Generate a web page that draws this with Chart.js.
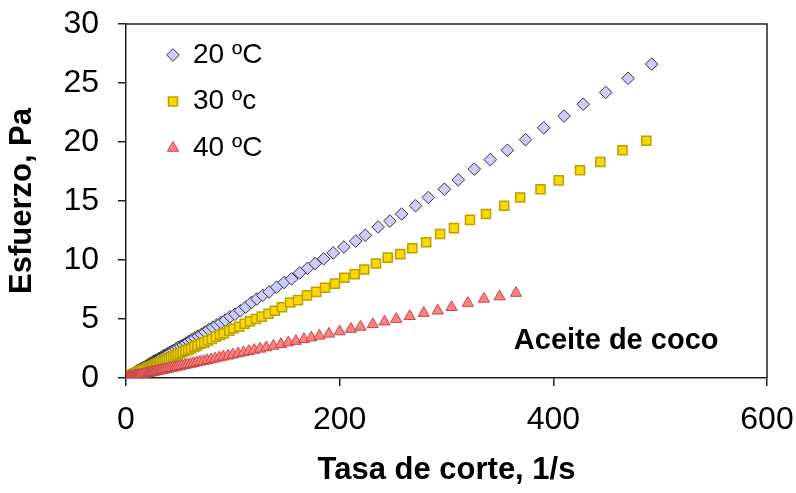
<!DOCTYPE html>
<html>
<head>
<meta charset="utf-8">
<script src="https://cdn.jsdelivr.net/npm/chart.js@4.4.1/dist/chart.umd.min.js"></script>
<style>
  html, body { margin: 0; padding: 0; background: #fff; }
  #wrap { width: 796px; height: 493px; }
</style>
</head>
<body>
<div id="wrap"><canvas id="flowChart" width="796" height="493"></canvas></div>
<script>
// Curvas de flujo: esfuerzo vs tasa de corte
const FONT = "'Liberation Sans', Arial, sans-serif";

const seriesLabels = ['20 ºC', '30 ºc', '40 ºC'];
const sampleName = 'Aceite de coco';
const xTitle = 'Tasa de corte, 1/s';
const yTitle = 'Esfuerzo, Pa';

// 20 ºC
const rate20 = [1.0, 1.3, 1.7, 2.1, 2.6, 3.1, 3.7, 4.3, 4.9, 5.6, 6.5, 7.4, 8.1, 8.9, 9.8, 10.7, 11.8, 12.9, 14.1, 15.5, 17.0, 18.6,
  20.4, 21.4, 22.4, 23.4, 24.5, 25.7, 26.9, 28.2, 29.5, 30.9, 32.3, 33.9, 35.4, 37.1, 38.9, 40.7, 42.6, 44.6, 46.7, 48.9,
  51.2, 53.6, 56.2, 58.8, 61.6, 64.5, 67.5, 70.7, 74.0, 77.5, 81.2, 85.0, 89.0,
  93, 97.5, 102, 107, 112, 117.5, 122.5, 128, 134, 141, 148, 155, 162.5, 170, 177, 185, 194, 204, 215, 224, 236, 247,
  258, 271, 283, 298, 311, 326, 341, 357, 374, 391, 410, 428, 449, 470, 492];
const stress20 = [0.1, 0.1, 0.1, 0.15, 0.2, 0.2, 0.25, 0.25, 0.3, 0.3, 0.35, 0.4, 0.45, 0.5, 0.55, 0.6, 0.65, 0.7, 0.75, 0.85, 0.9, 1.0,
  1.1, 1.15, 1.2, 1.25, 1.3, 1.4, 1.45, 1.5, 1.55, 1.65, 1.7, 1.8, 1.9, 1.95, 2.05, 2.15, 2.25, 2.35, 2.45, 2.6,
  2.7, 2.8, 2.95, 3.1, 3.25, 3.4, 3.55, 3.7, 3.9, 4.1, 4.3, 4.5, 4.7,
  4.9, 5.2, 5.4, 5.7, 6.0, 6.4, 6.7, 7.0, 7.3, 7.7, 8.1, 8.4, 8.9, 9.3, 9.7, 10.1, 10.6, 11.1, 11.6, 12.1, 12.8, 13.3,
  13.9, 14.6, 15.3, 16.0, 16.8, 17.7, 18.5, 19.3, 20.2, 21.2, 22.2, 23.2, 24.2, 25.4, 26.6];

// 30 ºC
const rate30 = [1.0, 1.3, 1.7, 2.1, 2.6, 3.1, 3.7, 4.3, 4.9, 5.5, 6.4, 7.3, 8.0, 8.8, 9.7, 10.6, 11.7, 12.8, 14.0, 15.3, 16.8, 18.4,
  20.2, 21.2, 22.2, 23.2, 24.3, 25.4, 26.6, 27.9, 29.2, 30.6, 32.0, 33.6, 35.0, 36.7, 38.5, 40.3, 42.2, 44.2, 46.2, 48.4,
  50.7, 53.1, 55.6, 58.2, 61.0, 63.9, 66.8, 70.0, 73.3, 76.7, 80.4, 84.2, 88.1,
  91.6, 96.6, 100.6, 106, 111, 116, 121.6, 127, 133.4, 139.4, 146, 153.7, 161, 169.4, 178, 186.3, 195.6, 204.4, 214, 223, 234, 245,
  256.6, 268, 281, 294, 307, 322, 337, 354, 369, 388, 405, 425, 444, 464.7, 487];
const stress30 = [0.05, 0.05, 0.1, 0.1, 0.1, 0.15, 0.15, 0.2, 0.2, 0.25, 0.3, 0.3, 0.35, 0.4, 0.4, 0.45, 0.5, 0.55, 0.6, 0.65, 0.7, 0.75,
  0.85, 0.9, 0.9, 0.95, 1.0, 1.05, 1.1, 1.15, 1.2, 1.25, 1.3, 1.4, 1.45, 1.5, 1.6, 1.65, 1.75, 1.8, 1.9, 2.0,
  2.1, 2.2, 2.3, 2.4, 2.5, 2.65, 2.75, 2.9, 3.0, 3.15, 3.3, 3.5, 3.65,
  3.8, 4.0, 4.2, 4.35, 4.6, 4.8, 5.0, 5.2, 5.45, 5.7, 6.0, 6.4, 6.6, 7.0, 7.3, 7.65, 8.0, 8.5, 8.8, 9.2, 9.7, 10.2,
  10.5, 11.0, 11.5, 12.2, 12.7, 13.4, 13.9, 14.6, 15.3, 16.0, 16.75, 17.6, 18.3, 19.3, 20.1];

// 40 ºC
const rate40 = [1.0, 1.3, 1.7, 2.1, 2.5, 3.0, 3.6, 4.2, 4.8, 5.5, 6.4, 7.3, 7.9, 8.7, 9.6, 10.5, 11.6, 12.6, 13.8, 15.2, 16.7, 18.2,
  20.0, 21.0, 22.0, 22.9, 24.0, 25.2, 26.4, 27.6, 28.9, 30.3, 31.7, 33.2, 34.7, 36.4, 38.1, 39.9, 41.7, 43.7, 45.8, 47.9,
  50.2, 52.5, 55.1, 57.6, 60.4, 63.2, 66.2, 69.3, 72.5, 76.0, 79.6, 83.3, 87.2,
  91.1, 95.6, 100, 105, 110, 115, 120, 125.4, 131.3, 138, 145, 152, 159, 166.6, 173.5, 181, 190, 200, 210.5, 219.5, 231, 242,
  253, 265.6, 278.7, 291.8, 304.7, 320, 335, 349.7, 365];
const stress40 = [0.03, 0.03, 0.04, 0.05, 0.06, 0.07, 0.08, 0.09, 0.1, 0.12, 0.13, 0.15, 0.16, 0.18, 0.2, 0.21, 0.23, 0.25, 0.28, 0.3, 0.33, 0.36,
  0.4, 0.42, 0.44, 0.46, 0.48, 0.5, 0.52, 0.55, 0.57, 0.6, 0.63, 0.66, 0.69, 0.72, 0.75, 0.79, 0.82, 0.86, 0.9, 0.95,
  0.99, 1.03, 1.09, 1.14, 1.19, 1.25, 1.31, 1.37, 1.43, 1.5, 1.57, 1.64, 1.72,
  1.8, 1.88, 1.97, 2.07, 2.17, 2.27, 2.37, 2.47, 2.59, 2.72, 2.86, 3.0, 3.13, 3.28, 3.42, 3.57, 3.74, 3.94, 4.15, 4.33, 4.55, 4.77,
  4.99, 5.23, 5.5, 5.7, 6.0, 6.35, 6.7, 6.9, 7.2];

const toPoints = (xs, ys) => xs.map((x, i) => ({ x: x, y: ys[i] }));

// fija el tamaño de cada eje y anula el relleno automático de etiquetas
const fixBox = (w, h) => (scale) => {
  if (w) scale.width = w;
  if (h) scale.height = h;
  scale.paddingTop = 0;
  scale.paddingBottom = 0;
  scale.paddingLeft = 0;
  scale.paddingRight = 0;
};

// caja superior/derecha, leyenda interna y rótulo de la muestra
const extrasPlugin = {
  id: 'extras',
  beforeDatasetsDraw(chart) {
    const { ctx, chartArea: a } = chart;
    ctx.save();
    ctx.strokeStyle = '#222';
    ctx.lineWidth = 1.5;
    ctx.beginPath();
    ctx.moveTo(a.left, a.top);
    ctx.lineTo(a.right, a.top);
    ctx.lineTo(a.right, a.bottom);
    ctx.stroke();
    ctx.restore();
  },
  afterDraw(chart) {
    const { ctx, chartArea: a, scales } = chart;
    ctx.save();
    chart.data.datasets.forEach((ds, i) => {
      const px = a.left + 47;
      const py = a.top + 31 + i * 46.5;
      ctx.fillStyle = ds.backgroundColor;
      ctx.strokeStyle = ds.borderColor;
      ctx.lineWidth = ds.borderWidth;
      Chart.helpers.drawPoint(ctx, { pointStyle: ds.pointStyle, radius: ds.pointRadius, rotation: 0, borderWidth: ds.borderWidth }, px, py);
      ctx.fillStyle = '#000';
      ctx.font = '28px ' + FONT;
      ctx.textAlign = 'left';
      ctx.textBaseline = 'middle';
      ctx.fillText(ds.label, px + 20, py);
    });
    ctx.font = 'bold 29px ' + FONT;
    ctx.fillStyle = '#000';
    ctx.textAlign = 'left';
    ctx.textBaseline = 'middle';
    ctx.fillText(sampleName, scales.x.getPixelForValue(363), scales.y.getPixelForValue(3.1));
    ctx.restore();
  }
};

const ctx = document.getElementById('flowChart').getContext('2d');
new Chart(ctx, {
  type: 'scatter',
  data: {
    datasets: [
      {
        label: seriesLabels[0],
        data: toPoints(rate20, stress20),
        pointStyle: 'rectRot',
        pointRadius: 6.3,
        backgroundColor: '#CCCCFF',
        borderColor: '#333333',
        borderWidth: 1,
        order: 2
      },
      {
        label: seriesLabels[1],
        data: toPoints(rate30, stress30),
        pointStyle: 'rect',
        pointRadius: 6.4,
        backgroundColor: '#FFD700',
        borderColor: '#B8A200',
        borderWidth: 1.5,
        order: 1
      },
      {
        label: seriesLabels[2],
        data: toPoints(rate40, stress40),
        pointStyle: 'triangle',
        pointRadius: 6.5,
        backgroundColor: '#FF8080',
        borderColor: '#C84646',
        borderWidth: 1,
        order: 0
      }
    ]
  },
  options: {
    responsive: false,
    animation: false,
    events: [],
    layout: { padding: { left: 0, top: 24, right: 29, bottom: 0 } },
    plugins: {
      legend: { display: false },
      tooltip: { enabled: false }
    },
    scales: {
      x: {
        type: 'linear',
        min: 0,
        max: 600,
        afterFit: fixBox(0, 115),
        ticks: { stepSize: 200, padding: 15, color: '#000', maxRotation: 0, font: { family: FONT, size: 32 } },
        grid: { drawOnChartArea: false, drawTicks: true, tickLength: 8, color: '#222', lineWidth: 1.5 },
        border: { display: true, color: '#222', width: 1.5 },
        title: { display: true, text: xTitle, color: '#000', padding: { top: 0, bottom: 4 }, font: { family: FONT, size: 31, weight: 'bold' } }
      },
      y: {
        type: 'linear',
        min: 0,
        max: 30,
        afterFit: fixBox(126, 0),
        ticks: { stepSize: 5, padding: 19, color: '#000', font: { family: FONT, size: 32 } },
        grid: { drawOnChartArea: false, drawTicks: true, tickLength: 8, color: '#222', lineWidth: 1.5 },
        border: { display: true, color: '#222', width: 1.5 },
        title: { display: true, text: yTitle, color: '#000', padding: { top: 4, bottom: 0 }, font: { family: FONT, size: 31, weight: 'bold' } }
      }
    }
  },
  plugins: [extrasPlugin]
});
</script>
</body>
</html>
